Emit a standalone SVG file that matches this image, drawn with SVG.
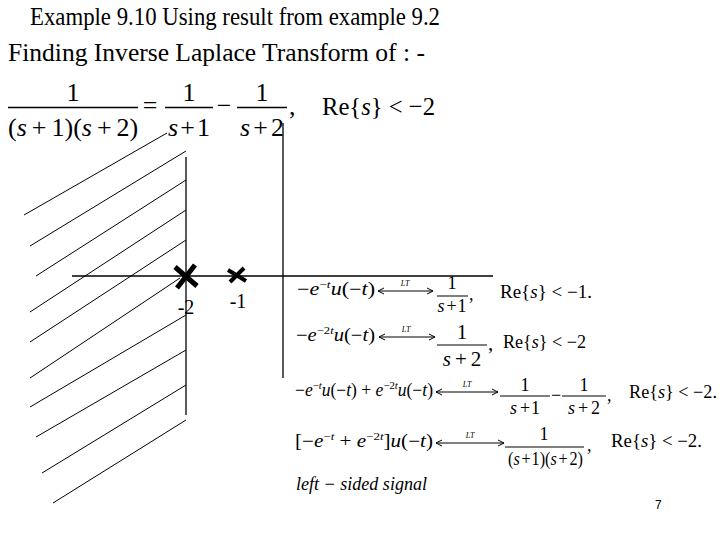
<svg xmlns="http://www.w3.org/2000/svg" width="720" height="540" viewBox="0 0 720 540">
<style>
text{font-family:"Liberation Serif","Times New Roman",serif;fill:#000}
.i{font-style:italic}
.ax{stroke:#000;stroke-width:1.3;fill:none}
.h{stroke:#000;stroke-width:1;fill:none}
.bar{stroke:#000;stroke-width:1.4}
.sbar{stroke:#000;stroke-width:1}
.pole{stroke:#000;stroke-linecap:butt;fill:none}
.arr{stroke:#000;stroke-width:1;fill:none;marker-start:url(#ah);marker-end:url(#ah)}
.eq{font-size:18px}
.fr{font-size:18px}
.sup{font-size:11px}
.lt{font-size:8px;font-style:italic}
</style>
<defs>
<marker id="ah" viewBox="0 0 8 8" refX="7" refY="4" markerWidth="8" markerHeight="8" markerUnits="userSpaceOnUse" orient="auto-start-reverse">
<path d="M1,1 L7,4 L1,7" fill="none" stroke="#000" stroke-width="1"/>
</marker>
</defs>
<rect width="720" height="540" fill="#fff"/>

<g id="title">
<text x="30" y="25" font-size="25" textLength="410" lengthAdjust="spacingAndGlyphs">Example 9.10 Using result from example 9.2</text>
<text x="8" y="61" font-size="26" textLength="417" lengthAdjust="spacingAndGlyphs">Finding Inverse Laplace Transform of : -</text>
</g>

<g id="main-formula" font-size="26">
<text x="73" y="101" text-anchor="middle" font-size="26">1</text>
<line class="bar" x1="8" y1="107.5" x2="138" y2="107.5"/>
<text x="8" y="136" font-size="26">(<tspan class="i">s</tspan><tspan dx="5">+</tspan><tspan dx="5">1)(</tspan><tspan class="i">s</tspan><tspan dx="5">+</tspan><tspan dx="5">2)</tspan></text>
<text x="150" y="114" text-anchor="middle" font-size="26">=</text>
<text x="189" y="101" text-anchor="middle" font-size="26">1</text>
<line class="bar" x1="165" y1="107.5" x2="213" y2="107.5"/>
<text x="189" y="136" text-anchor="middle" font-size="26"><tspan class="i">s</tspan><tspan dx="2">+</tspan><tspan dx="2">1</tspan></text>
<text x="224" y="114" text-anchor="middle" font-size="26">−</text>
<text x="262" y="101" text-anchor="middle" font-size="26">1</text>
<line class="bar" x1="237" y1="107.5" x2="287" y2="107.5"/>
<text x="262" y="136" text-anchor="middle" font-size="26"><tspan class="i">s</tspan><tspan dx="3">+</tspan><tspan dx="3">2</tspan></text>
<text x="289" y="115" font-size="26">,</text>
<text x="322" y="115" font-size="26" textLength="113" lengthAdjust="spacingAndGlyphs">Re{<tspan class="i">s</tspan>} &lt; −2</text>
</g>

<g id="hatch">
<line class="h" x1="24" y1="215" x2="167" y2="133"/>
<line class="h" x1="30" y1="246" x2="186" y2="151"/>
<line class="h" x1="36" y1="276" x2="186" y2="180"/>
<line class="h" x1="30" y1="312" x2="186" y2="210"/>
<line class="h" x1="30" y1="342" x2="186" y2="240"/>
<line class="h" x1="30" y1="378" x2="180" y2="278"/>
<line class="h" x1="30" y1="407" x2="186" y2="315"/>
<line class="h" x1="36" y1="437" x2="186" y2="350"/>
<line class="h" x1="42" y1="473" x2="186" y2="385"/>
<line class="h" x1="53" y1="503" x2="186" y2="420"/>
</g>

<g id="axes">
<line class="ax" x1="72" y1="276" x2="493" y2="276"/>
<line class="ax" x1="283" y1="123" x2="283" y2="378"/>
<line class="ax" x1="186" y1="157" x2="186" y2="415"/>
</g>

<g id="poles">
<line class="pole" stroke-width="5" x1="175" y1="267" x2="197" y2="286"/>
<line class="pole" stroke-width="5" x1="177" y1="288" x2="195" y2="265"/>
<line class="pole" stroke-width="4" x1="228" y1="270" x2="246" y2="281"/>
<line class="pole" stroke-width="4" x1="230" y1="282" x2="244" y2="268"/>
<text x="186" y="314" text-anchor="middle" font-size="20">-2</text>
<text x="238" y="308" text-anchor="middle" font-size="20">-1</text>
</g>

<g id="row1">
<text class="eq" x="297" y="295" textLength="78" lengthAdjust="spacingAndGlyphs">−<tspan class="i">e</tspan><tspan class="sup" dy="-7">−<tspan class="i">t</tspan></tspan><tspan class="i" dy="7">u</tspan>(−<tspan class="i">t</tspan>)</text>
<line class="arr" x1="378" y1="291" x2="433" y2="291"/>
<text class="lt" x="405" y="286" text-anchor="middle">LT</text>
<text class="fr" x="452" y="289" text-anchor="middle">1</text>
<line class="sbar" x1="437" y1="296" x2="468" y2="296"/>
<text class="fr" x="452" y="312" text-anchor="middle"><tspan class="i">s</tspan><tspan dx="2">+</tspan><tspan dx="1">1</tspan></text>
<text class="fr" x="469" y="300">,</text>
<text class="fr" x="500" y="298" textLength="92" lengthAdjust="spacingAndGlyphs">Re{<tspan class="i">s</tspan>} &lt; −1.</text>
</g>

<g id="row2">
<text class="eq" x="296" y="341" textLength="79" lengthAdjust="spacingAndGlyphs">−<tspan class="i">e</tspan><tspan class="sup" dy="-7">−2<tspan class="i">t</tspan></tspan><tspan class="i" dy="7">u</tspan>(−<tspan class="i">t</tspan>)</text>
<line class="arr" x1="379" y1="337" x2="435" y2="337"/>
<text class="lt" x="406" y="332" text-anchor="middle">LT</text>
<text x="462" y="339" text-anchor="middle" font-size="21">1</text>
<line class="sbar" x1="437" y1="345" x2="487" y2="345"/>
<text x="462" y="366" text-anchor="middle" font-size="21"><tspan class="i">s</tspan><tspan dx="4">+</tspan><tspan dx="4">2</tspan></text>
<text x="488" y="350" font-size="21">,</text>
<text class="fr" x="503" y="348" textLength="83" lengthAdjust="spacingAndGlyphs">Re{<tspan class="i">s</tspan>} &lt; −2</text>
</g>

<g id="row3">
<text class="eq" x="295" y="396" textLength="138" lengthAdjust="spacingAndGlyphs">−<tspan class="i">e</tspan><tspan class="sup" dy="-7">−<tspan class="i">t</tspan></tspan><tspan class="i" dy="7">u</tspan>(−<tspan class="i">t</tspan>) + <tspan class="i">e</tspan><tspan class="sup" dy="-7">−2<tspan class="i">t</tspan></tspan><tspan class="i" dy="7">u</tspan>(−<tspan class="i">t</tspan>)</text>
<line class="arr" x1="436" y1="392" x2="498" y2="392"/>
<text class="lt" x="467" y="387" text-anchor="middle">LT</text>
<text class="fr" x="525" y="391" text-anchor="middle">1</text>
<line class="sbar" x1="500" y1="396" x2="550" y2="396"/>
<text class="fr" x="525" y="414" text-anchor="middle"><tspan class="i">s</tspan><tspan dx="3">+</tspan><tspan dx="1">1</tspan></text>
<text class="fr" x="556" y="401" text-anchor="middle">−</text>
<text class="fr" x="584" y="391" text-anchor="middle">1</text>
<line class="sbar" x1="562" y1="396" x2="606" y2="396"/>
<text class="fr" x="584" y="414" text-anchor="middle"><tspan class="i">s</tspan><tspan dx="3">+</tspan><tspan dx="3">2</tspan></text>
<text class="fr" x="607" y="401">,</text>
<text class="fr" x="629" y="398" textLength="88" lengthAdjust="spacingAndGlyphs">Re{<tspan class="i">s</tspan>} &lt; −2.</text>
</g>

<g id="row4">
<text class="eq" x="295" y="447" textLength="138" lengthAdjust="spacingAndGlyphs">[−<tspan class="i">e</tspan><tspan class="sup" dy="-7">−<tspan class="i">t</tspan></tspan><tspan dy="7"> + </tspan><tspan class="i">e</tspan><tspan class="sup" dy="-7">−2<tspan class="i">t</tspan></tspan><tspan dy="7">]</tspan><tspan class="i">u</tspan>(−<tspan class="i">t</tspan>)</text>
<line class="arr" x1="436" y1="443" x2="504" y2="443"/>
<text class="lt" x="470" y="438" text-anchor="middle">LT</text>
<text class="fr" x="544" y="440" text-anchor="middle">1</text>
<line class="sbar" x1="505" y1="447" x2="584" y2="447"/>
<text class="fr" x="508" y="465" textLength="75" lengthAdjust="spacingAndGlyphs">(<tspan class="i">s</tspan><tspan dx="2">+</tspan><tspan dx="1">1)(</tspan><tspan class="i">s</tspan><tspan dx="2">+</tspan><tspan dx="2">2)</tspan></text>
<text class="fr" x="587" y="451">,</text>
<text class="fr" x="611" y="447" textLength="91" lengthAdjust="spacingAndGlyphs">Re{<tspan class="i">s</tspan>} &lt; −2.</text>
</g>

<g id="note">
<text class="eq i" x="296" y="490" textLength="131" lengthAdjust="spacingAndGlyphs">left − sided signal</text>
<text x="655" y="509" font-size="12" style="font-family:'Liberation Sans',Arial,sans-serif">7</text>
</g>
</svg>
